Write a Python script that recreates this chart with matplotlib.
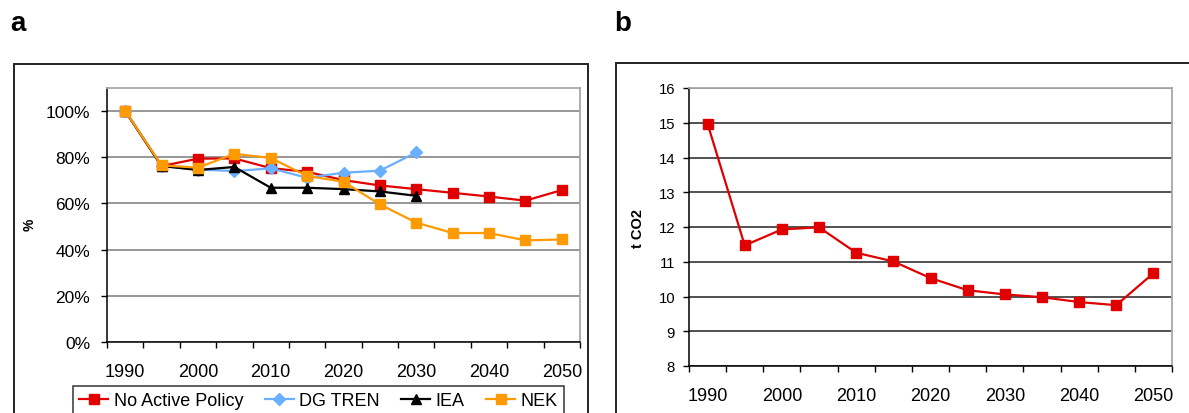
import matplotlib
matplotlib.use('Agg')
from matplotlib import pyplot as plt
from matplotlib.patches import Rectangle
from matplotlib.ticker import FixedLocator, FuncFormatter
import numpy as np

plt.rcParams['font.family'] = ['Liberation Sans', 'DejaVu Sans']

# 5-year steps, 1990 - 2050
years = ['1990', '1995', '2000', '2005', '2010', '2015', '2020',
         '2025', '2030', '2035', '2040', '2045', '2050']

# share of 1990 level (%)
no_active_policy = [100, 76.2, 79.4, 79.5, 75.3, 73.7, 70.1, 67.8, 66.2, 64.6, 63.0, 61.2, 65.8]
dg_tren = [100, 76.2, 74.7, 74.0, 75.2, 71.1, 73.3, 74.2, 82.1]
iea = [100, 76.2, 74.5, 75.8, 66.8, 66.8, 66.2, 65.2, 63.3]
nek = [100, 76.5, 75.5, 81.5, 79.7, 71.9, 69.4, 59.6, 51.7, 47.2, 47.2, 44.0, 44.4]

# emissions per capita (t CO2)
t_co2 = [14.97, 11.47, 11.93, 11.99, 11.26, 11.01, 10.53, 10.18, 10.06, 9.98, 9.84, 9.75, 10.67]

RED = '#E00000'
BLUE = '#6AB0FF'
ORANGE = '#FF9A00'

W, H = 1189, 414
fig = plt.figure(figsize=(W / 100, H / 100), dpi=100)

# chart frames
fig.patches.append(Rectangle((14 / W, -0.2), (588 - 14) / W, 1 - 65 / H + 0.2,
                             transform=fig.transFigure, fill=False,
                             edgecolor='#222222', lw=1.4, clip_on=False))
fig.patches.append(Rectangle((616 / W, -0.2), 0.5, 1 - 64 / H + 0.2,
                             transform=fig.transFigure, fill=False,
                             edgecolor='#222222', lw=1.4, clip_on=False))


def style_axes(ax, grid_color, ylab_size, xlab_size, ypad):
    n = len(years)
    x = np.arange(n)
    ax.set_xlim(-0.5, n - 0.5)
    ax.xaxis.set_major_locator(FixedLocator(np.arange(n + 1) - 0.5))
    ax.xaxis.set_minor_locator(FixedLocator(x[::2]))
    ax.xaxis.set_major_formatter(FuncFormatter(lambda v, p: ''))
    ax.xaxis.set_minor_formatter(FuncFormatter(lambda v, p: years[int(round(v))]))
    ax.tick_params(axis='x', which='major', direction='out', length=4, width=1, color='black')
    ax.tick_params(axis='x', which='minor', length=0, pad=15, labelsize=xlab_size)
    ax.tick_params(axis='y', direction='out', length=4, width=1, pad=ypad, labelsize=ylab_size)
    ax.grid(axis='y', color=grid_color, lw=1.1)
    ax.set_axisbelow(True)
    for s in ('left', 'bottom'):
        ax.spines[s].set_color('black')
        ax.spines[s].set_linewidth(1.1)
    for s in ('top', 'right'):
        ax.spines[s].set_color('#A8A8A8')
        ax.spines[s].set_linewidth(1.3)
    return x


# --- panel a ---
ax1 = fig.add_axes([107 / W, 1 - 343 / H, (580 - 107) / W, (343 - 89) / H])
x = style_axes(ax1, '#7A7A7A', 12.5, 13, 8)
ax1.set_ylim(0, 110)
ax1.set_yticks(np.arange(0, 101, 20))
ax1.yaxis.set_major_formatter(FuncFormatter(lambda v, p: f'{v:.0f}%'))

ax1.plot(x, no_active_policy, color=RED, lw=1.6, marker='s', ms=7, label='No Active Policy')
ax1.plot(x[:len(dg_tren)], dg_tren, color=BLUE, lw=1.6, marker='D', ms=6, label='DG TREN')
ax1.plot(x[:len(iea)], iea, color='black', lw=1.6, marker='^', ms=7.5, label='IEA')
ax1.plot(x, nek, color=ORANGE, lw=1.6, marker='s', ms=7, label='NEK')
fig.text(30 / W, 1 - 225 / H, '%', fontsize=10, fontweight='bold',
         rotation=90, ha='center', va='center')

leg = fig.legend(loc='upper left', bbox_to_anchor=(73 / W, 1 - 387 / H),
                 bbox_transform=fig.transFigure, ncol=4, fontsize=13,
                 frameon=True, fancybox=False, edgecolor='black',
                 handlelength=1.6, handletextpad=0.3, columnspacing=1.2,
                 borderpad=0.35, borderaxespad=0)
leg.get_frame().set_linewidth(1.1)

# --- panel b ---
ax2 = fig.add_axes([689 / W, 1 - 367 / H, (1172 - 689) / W, (367 - 89) / H])
x = style_axes(ax2, '#222222', 10.7, 13, 6)
ax2.set_ylim(8, 16)
ax2.set_yticks(np.arange(8, 17, 1))
ax2.plot(x, t_co2, color=RED, lw=1.6, marker='s', ms=7)
fig.text(638 / W, 1 - 229 / H, 't CO2', fontsize=10.5, fontweight='bold',
         rotation=90, ha='center', va='center')

fig.text(10 / W, 1 - 31 / H, 'a', fontsize=20, fontweight='bold')
fig.text(614 / W, 1 - 31 / H, 'b', fontsize=20, fontweight='bold')

fig.savefig('out.png', dpi=100)
